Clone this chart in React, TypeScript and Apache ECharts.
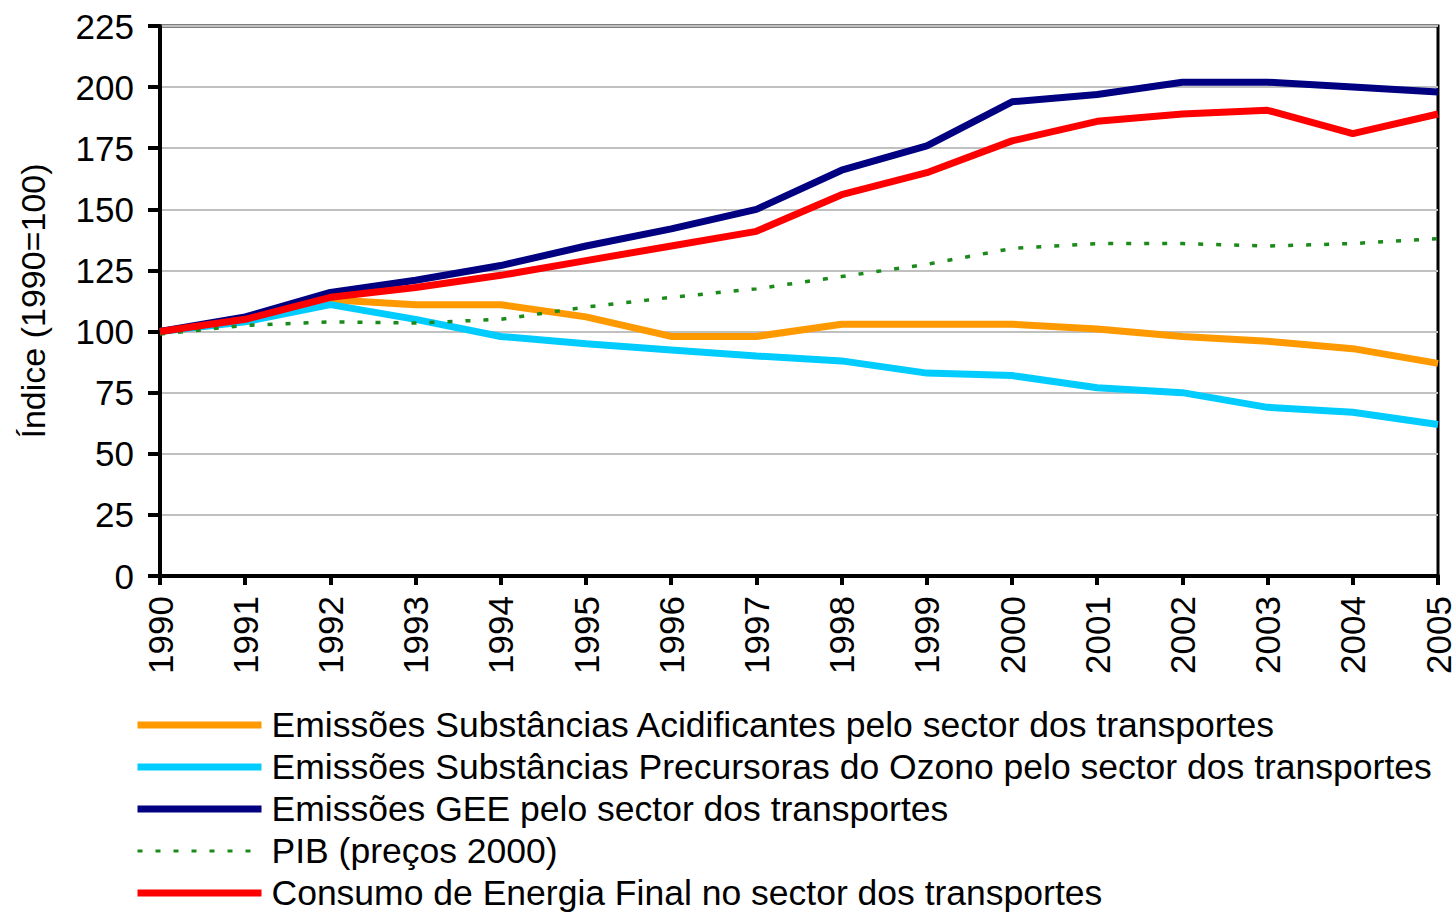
import React, { useEffect, useRef } from "react";
import * as echarts from "echarts";

const years = ["1990","1991","1992","1993","1994","1995","1996","1997","1998","1999","2000","2001","2002","2003","2004","2005"];
const yTicks = { min: 0, max: 225, interval: 25 };

const acidificantes = [100, 105, 113, 111, 111, 106, 98, 98, 103, 103, 103, 101, 98, 96, 93, 87];
const ozono = [100, 104, 111, 105, 98, 95, 92.5, 90, 88, 83, 82, 77, 75, 69, 67, 62];
const gee = [100, 106, 116, 121, 127, 135, 142, 150, 166, 176, 194, 197, 202, 202, 200, 198];
const pib = [99, 102.5, 104, 103.5, 105, 110, 114, 117.5, 122.5, 127.5, 134, 136, 136, 135, 136, 138];
const energia = [100, 105, 114, 118, 123, 129, 135, 141, 156, 165, 178, 186, 189, 190.5, 181, 189];

const names = [
  "Emissões Substâncias Acidificantes pelo sector dos transportes",
  "Emissões Substâncias Precursoras do Ozono pelo sector dos transportes",
  "Emissões GEE pelo sector dos transportes",
  "PIB (preços 2000)",
  "Consumo de Energia Final no sector dos transportes",
];
const colors = ["#FF9900", "#00CCFF", "#000080", "#1a8a1a", "#FF0000"];

const FONT = "'Liberation Sans', Arial, sans-serif";
const PIB_DASH = [5, 13];

export default function App() {
  const ref = useRef<HTMLDivElement>(null);
  useEffect(() => {
    document.body.style.margin = "0";
    const chart = echarts.init(ref.current!, null, { renderer: "svg" });
    const solid = (name: string, data: number[], color: string, z: number) => ({
      name,
      type: "line",
      data,
      symbol: "none",
      z,
      lineStyle: { color, width: 7, type: "solid" },
      itemStyle: { color },
    });
    chart.setOption({
      animation: false,
      backgroundColor: "#ffffff",
      textStyle: { fontFamily: FONT },
      grid: {
        left: 160,
        right: 18,
        top: 26,
        bottom: 338,
        show: true,
        borderColor: "#000",
        borderWidth: 3,
        backgroundColor: "transparent",
      },
      legend: {
        orient: "vertical",
        left: 134,
        top: 707,
        height: 207,
        padding: 0,
        itemWidth: 124,
        itemHeight: 14,
        itemGap: 6,
        itemStyle: { opacity: 0 },
        textStyle: { fontSize: 35.5, color: "#000", fontFamily: FONT, lineHeight: 36, padding: [0, 0, 0, 5] },
        data: names.map((n, i) => ({
          name: n,
          itemStyle: { opacity: 0 },
          lineStyle: i === 3
            ? { color: colors[i], width: 3, type: PIB_DASH }
            : { color: colors[i], width: 7, type: "solid" },
        })),
      },
      xAxis: {
        type: "category",
        data: years,
        boundaryGap: false,
        axisLine: { lineStyle: { color: "#000", width: 4 } },
        axisTick: { show: true, length: 9, lineStyle: { color: "#000", width: 4 } },
        axisLabel: { rotate: 90, fontSize: 35, color: "#000", margin: 20, fontFamily: FONT },
        splitLine: { show: false },
      },
      yAxis: {
        type: "value",
        min: yTicks.min,
        max: yTicks.max,
        interval: yTicks.interval,
        name: "Índice (1990=100)",
        nameLocation: "middle",
        nameGap: 110,
        nameTextStyle: { fontSize: 34, color: "#000", fontFamily: FONT },
        axisLine: { show: true, lineStyle: { color: "#000", width: 4 } },
        axisTick: { show: true, length: 12, lineStyle: { color: "#000", width: 4 } },
        axisLabel: { fontSize: 35, color: "#000", margin: 26, fontFamily: FONT },
        splitLine: { lineStyle: { color: "#c0c0c0", width: 2 } },
      },
      series: [
        solid(names[0], acidificantes, colors[0], 2),
        solid(names[1], ozono, colors[1], 3),
        solid(names[2], gee, colors[2], 4),
        {
          name: names[3],
          type: "line",
          data: pib,
          symbol: "none",
          z: 5,
          lineStyle: { color: colors[3], width: 3.5, type: PIB_DASH },
          itemStyle: { color: colors[3] },
        },
        solid(names[4], energia, colors[4], 6),
      ],
    });
    return () => chart.dispose();
  }, []);
  return <div ref={ref} style={{ position: "fixed", left: 0, top: 0, width: 1456, height: 914 }} />;
}
